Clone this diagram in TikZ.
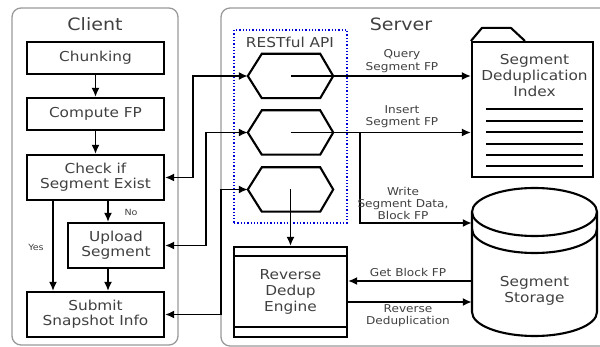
\documentclass[tikz,border=0pt]{standalone}
\usepackage{fontspec}
\setmainfont{DejaVu Sans}[FakeStretch=1.12]
\usetikzlibrary{arrows.meta}

\begin{document}
\begin{tikzpicture}[x=1pt,y=-1pt,
  txt/.style={text=black!75, align=center},
  boxfont/.style={font=\fontsize{13.7}{15}\selectfont},
  lbl/.style={txt, font=\fontsize{10.8}{12.3}\selectfont, inner sep=0pt},
  small/.style={txt, font=\fontsize{8.5}{10}\selectfont, inner sep=0pt},
  title/.style={txt, font=\fontsize{17}{20}\selectfont, inner sep=0pt},
  stepbox/.style={draw, line width=2.1pt, minimum width=137pt, minimum height=32pt,
    inner sep=0pt, txt, boxfont},
  panel/.style={draw=black!40, line width=1.3pt, rounded corners=9pt},
  tip/.tip={Latex[length=9pt,width=8pt]},
  flow/.style={line width=1.7pt, -tip},
  both/.style={line width=1.7pt, tip-tip},
  hexslot/.style={minimum width=85pt, minimum height=44pt, inner sep=0pt, draw=none},
  shapeline/.style={line width=2.1pt},
]
\useasboundingbox (0,0) rectangle (600,347);

% panels
\draw[panel] (12,8) rectangle (178,345);
\draw[panel] (221,8) rectangle (614,346);
\node[title] (clientT) at (95,24) {Client};
\node[title] (serverT) at (401,24) {Server};

% client steps
\node[stepbox] (chunk) at (95.5,58) {Chunking};
\node[stepbox] (cfp) at (95.5,114) {Compute FP};
\node[stepbox, minimum height=45pt] (check) at (95.5,177.5) {Check if\\Segment Exist};
\node[stepbox, minimum width=96pt, minimum height=45pt] (upload) at (116,245.5) {Upload\\Segment};
\node[stepbox, minimum height=45pt] (submit) at (95.5,314.5) {Submit\\Snapshot Info};

\draw[flow] (chunk) -- (cfp);
\draw[flow] (cfp) -- (check);
\path ([xshift=-8pt]upload.north) coordinate (uin);
\path ([xshift=-8pt]upload.south) coordinate (uout);
\draw[flow] (check.south -| uin) -- (uin);
\draw[flow] (uout) -- (submit.north -| uout);
\path ([xshift=-42.5pt]check.south) coordinate (yesout);
\draw[flow] (yesout) -- (submit.north -| yesout);
\node[small] (nolbl) at (131,212) {No};
\node[small] (yeslbl) at (36,247) {Yes};

% RESTful API group
\node[draw=blue!85!black, dotted, line width=1.3pt, minimum width=113pt, minimum height=193pt,
  inner sep=0pt] (api) at (290.5,126.5) {};
\node[txt, boxfont, inner sep=0pt] (apilbl) at (290,42) {RESTful API};

\node[hexslot] (hexA) at (290.5,76) {};
\node[hexslot] (hexB) at (290.5,132.5) {};
\node[hexslot] (hexC) at (290.5,189.5) {};
\foreach \h in {hexA,hexB,hexC}
  \draw[shapeline] (\h.west) -- ([xshift=14pt]\h.north west) -- ([xshift=-13pt]\h.north east)
    -- (\h.east) -- ([xshift=-13pt]\h.south east) -- ([xshift=14pt]\h.south west) -- cycle;

% reverse dedup engine
\node[draw, shapeline, minimum width=113pt, minimum height=90pt, inner sep=0pt, txt,
  font=\fontsize{13.7}{16}\selectfont] (engine) at (290.5,292) {Reverse\\Dedup\\Engine};
\draw[shapeline] ([yshift=-10pt]engine.north west) -- ([yshift=-10pt]engine.north east);
\draw[shapeline] ([yshift=11pt]engine.south west) -- ([yshift=11pt]engine.south east);

% segment deduplication index (document)
\node[draw, shapeline, minimum width=121pt, minimum height=135pt, inner sep=0pt] (index) at (532.5,109.5) {};
\draw[shapeline, line join=round] (index.north west) -- ++(11,-13) -- ++(29,0) -- ++(14,13);
\node[txt, font=\fontsize{13.7}{16}\selectfont, inner sep=0pt] (indexlbl) at (534.5,76)
  {Segment\\Deduplication\\Index};
\foreach \yy in {109,121,132,144,155,166}
  \draw[line width=1.8pt] (486,\yy) -- (583,\yy);

% segment storage (cylinder)
\node[minimum width=125pt, minimum height=148pt, inner sep=0pt] (store) at (534.5,262) {};
\draw[shapeline] (472,212) -- (472,312) arc[start angle=180, end angle=360, x radius=62.5pt, y radius=24pt] -- (597,212);
\draw[shapeline] (534.5,212) ellipse [x radius=62.5pt, y radius=24pt];
\draw[shapeline] (472,229) arc[start angle=180, end angle=360, x radius=62.5pt, y radius=24pt];
\node[txt, font=\fontsize{13.7}{16}\selectfont, inner sep=0pt] (storelbl) at (534.5,291) {Segment\\Storage};

% client <-> API
\draw[both] (check.east) -- ++(28,0) |- (hexA.west);
\draw[both] (upload.east) -- ++(41,0) |- (hexB.west);
\draw[both] (submit.east) -- ++(56,0) |- (hexC.west);

% API -> index / storage / engine
\draw[flow] (hexA.center) -- (hexA.center -| index.west);
\draw[flow] (hexB.center) -- (hexB.center -| index.west);
\path (hexB.center) ++(69.5,0) coordinate (split);
\draw[flow] (split) |- ([yshift=39pt]store.west);
\draw[flow] (hexC.center) -- (engine.north);
\draw[flow] ([yshift=-19pt]store.west) -- ([yshift=-19pt]store.west -| engine.east);
\draw[flow] ([yshift=-10pt]engine.east) -- ([yshift=-10pt]engine.east -| store.west);

% connector labels
\node[lbl] (qlbl) at (402,61) {Query\\Segment FP};
\node[lbl] (ilbl) at (402,117) {Insert\\Segment FP};
\node[lbl] (wlbl) at (403,203.5) {Write\\Segment Data,\\Block FP};
\node[lbl] (glbl) at (408,272) {Get Block FP};
\node[lbl] (rlbl) at (408,316) {Reverse\\Deduplication};
\end{tikzpicture}
\end{document}
